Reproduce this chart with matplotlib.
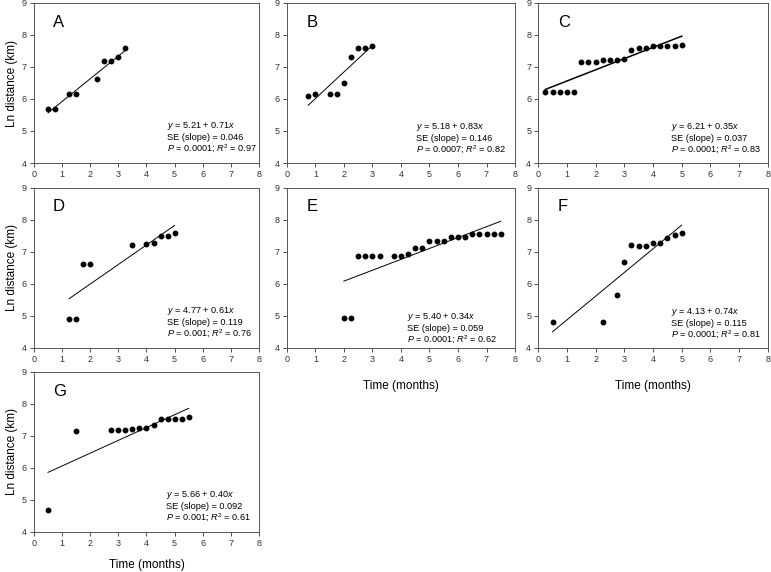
import matplotlib.pyplot as plt

plt.rcParams['font.family'] = ['Liberation Sans', 'DejaVu Sans']
plt.rcParams['mathtext.fontset'] = 'custom'
plt.rcParams['mathtext.rm'] = 'Liberation Sans'
plt.rcParams['mathtext.it'] = 'Liberation Sans:italic'

# Panel data: time (months) vs ln distance (km), fit coefficients and stats
labels = ["A", "B", "C", "D", "E", "F", "G"]

x_a = [0.5, 0.75, 1.25, 1.5, 2.25, 2.5, 2.75, 3.0, 3.25]
y_a = [5.7, 5.7, 6.15, 6.15, 6.62, 7.18, 7.18, 7.3, 7.58]

x_b = [0.75, 1.0, 1.5, 1.75, 2.0, 2.25, 2.5, 2.75, 3.0]
y_b = [6.1, 6.17, 6.17, 6.17, 6.5, 7.32, 7.58, 7.58, 7.65]

x_c = [0.25, 0.5, 0.75, 1.0, 1.25, 1.5, 1.75, 2.0, 2.25, 2.5,
       2.75, 3.0, 3.25, 3.5, 3.75, 4.0, 4.25, 4.5, 4.75, 5.0]
y_c = [6.22, 6.22, 6.22, 6.22, 6.22, 7.15, 7.15, 7.15, 7.23, 7.23,
       7.23, 7.25, 7.53, 7.6, 7.6, 7.65, 7.65, 7.65, 7.65, 7.7]

x_d = [1.25, 1.5, 1.75, 2.0, 3.5, 4.0, 4.25, 4.5, 4.75, 5.0]
y_d = [4.9, 4.9, 6.63, 6.63, 7.2, 7.25, 7.28, 7.5, 7.5, 7.58]

x_e = [2.0, 2.25, 2.5, 2.75, 3.0, 3.25, 3.75, 4.0, 4.25, 4.5, 4.75,
       5.0, 5.25, 5.5, 5.75, 6.0, 6.25, 6.5, 6.75, 7.0, 7.25, 7.5]
y_e = [4.93, 4.93, 6.85, 6.85, 6.85, 6.85, 6.85, 6.87, 6.93, 7.1, 7.1,
       7.33, 7.33, 7.33, 7.45, 7.47, 7.47, 7.55, 7.55, 7.55, 7.55, 7.55]

x_f = [0.5, 2.25, 2.75, 3.0, 3.25, 3.5, 3.75, 4.0, 4.25, 4.5, 4.75, 5.0]
y_f = [4.8, 4.8, 5.65, 6.67, 7.2, 7.17, 7.17, 7.27, 7.27, 7.42, 7.52, 7.58]

x_g = [0.5, 1.5, 2.75, 3.0, 3.25, 3.5, 3.75, 4.0, 4.25, 4.5, 4.75, 5.0, 5.25, 5.5]
y_g = [4.68, 7.15, 7.17, 7.17, 7.18, 7.2, 7.23, 7.23, 7.35, 7.52, 7.52, 7.52, 7.52, 7.6]

intercepts = [5.21, 5.18, 6.21, 4.77, 5.40, 4.13, 5.66]
slopes = [0.71, 0.83, 0.35, 0.61, 0.34, 0.74, 0.40]
se_slopes = ["0.046", "0.146", "0.037", "0.119", "0.059", "0.115", "0.092"]
p_values = ["0.0001", "0.0007", "0.0001", "0.001", "0.0001", "0.0001", "0.001"]
r2_values = ["0.97", "0.82", "0.83", "0.76", "0.62", "0.81", "0.61"]

xs = [x_a, x_b, x_c, x_d, x_e, x_f, x_g]
ys = [y_a, y_b, y_c, y_d, y_e, y_f, y_g]

# axes rectangles in figure fraction (left, bottom, width, height)
rects = [
    (0.044, 0.715, 0.292, 0.280),
    (0.372, 0.715, 0.296, 0.280),
    (0.698, 0.715, 0.298, 0.280),
    (0.044, 0.392, 0.292, 0.280),
    (0.372, 0.392, 0.296, 0.280),
    (0.698, 0.392, 0.298, 0.280),
    (0.044, 0.070, 0.292, 0.280),
]
text_x = [0.59, 0.566, 0.58, 0.59, 0.526, 0.58, 0.585]
text_y = [0.23, 0.225, 0.225, 0.23, 0.195, 0.225, 0.23]
line_w = [0.7, 0.7, 1.1, 0.7, 0.7, 0.7, 0.7]

fig = plt.figure(figsize=(7.71, 5.72), dpi=100)

for i, lab in enumerate(labels):
    ax = fig.add_axes(rects[i])
    x, y = xs[i], ys[i]
    ax.plot(x, y, 'o', color='black', markersize=3.2, zorder=3)
    x0, x1 = min(x), max(x)
    ax.plot([x0, x1], [intercepts[i] + slopes[i] * x0, intercepts[i] + slopes[i] * x1],
            color='black', lw=line_w[i])

    ax.set_xlim(0, 8)
    ax.set_ylim(4, 9)
    ax.set_xticks(range(0, 9))
    ax.set_yticks(range(4, 10))
    ax.tick_params(labelsize=6.5, colors='#333333', length=3, width=0.6, pad=2)
    for s in ax.spines.values():
        s.set_color('#555555')
        s.set_linewidth(0.7)

    ax.text(0.085, 0.88, lab, transform=ax.transAxes, fontsize=12,
            va='center', ha='left')

    tx, ty = text_x[i], text_y[i]
    dy = 0.072
    ax.text(tx, ty, r"$\it{y}$ = %.2f + %.2f$\it{x}$" % (intercepts[i], slopes[i]),
            transform=ax.transAxes, fontsize=6.6, va='center')
    ax.text(tx, ty - dy, "SE (slope) = " + se_slopes[i],
            transform=ax.transAxes, fontsize=6.6, va='center')
    ax.text(tx, ty - 2 * dy, r"$\it{P}$ = %s; $\it{R}^{2}$ = %s" % (p_values[i], r2_values[i]),
            transform=ax.transAxes, fontsize=6.6, va='center')

    if lab in ("A", "D", "G"):
        ax.set_ylabel("Ln distance (km)", fontsize=8.5, labelpad=3)
    if lab in ("E", "F"):
        ax.set_xlabel("Time (months)", fontsize=8.5, labelpad=12)
    if lab == "G":
        ax.set_xlabel("Time (months)", fontsize=8.5, labelpad=8)

plt.savefig("out.png", dpi=100)
